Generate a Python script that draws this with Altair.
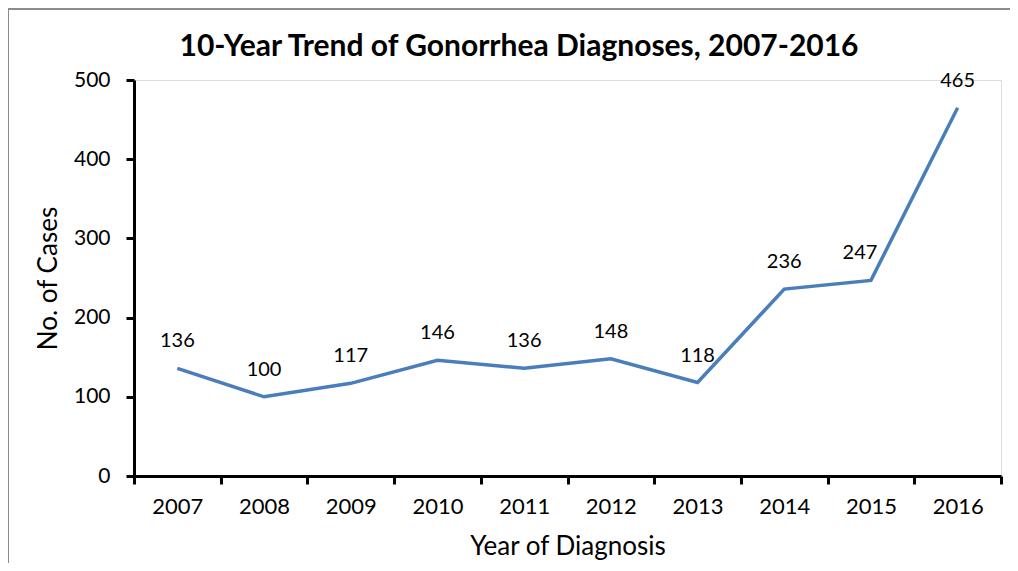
import altair as alt
import pandas as pd

years = ["2007", "2008", "2009", "2010", "2011", "2012", "2013", "2014", "2015", "2016"]
cases = [136, 100, 117, 146, 136, 148, 118, 236, 247, 465]
title_text = ["10-Year Trend of Gonorrhea Diagnoses, 2007-2016"]

df = pd.DataFrame({"year": years, "cases": cases})

FONT = "Lato"

x = alt.X("year:O", sort=years, title="Year of Diagnosis",
          scale=alt.Scale(paddingInner=0, paddingOuter=0),
          axis=alt.Axis(labelAngle=0, tickBand="extent", labelFontSize=22,
                        titleFontSize=26, labelPadding=12, titlePadding=16,
                        titleFontWeight="normal", tickSize=8, tickWidth=3,
                        domainWidth=3, domainColor="black", tickColor="black",
                        labelColor="black", titleColor="black", labelFont=FONT,
                        titleFont=FONT))
y = alt.Y("cases:Q", title="No. of Cases",
          scale=alt.Scale(domain=[0, 500]),
          axis=alt.Axis(values=[0, 100, 200, 300, 400, 500], grid=False,
                        labelFontSize=21, titleFontSize=26, labelPadding=16,
                        titlePadding=12, titleFontWeight="normal", tickSize=8,
                        tickWidth=3, domainWidth=3, domainColor="black",
                        tickColor="black", labelColor="black", titleColor="black",
                        labelFont=FONT, titleFont=FONT))

base = alt.Chart(df)

border = base.mark_rect(fill=None, stroke="#8c8c8c", strokeWidth=2, clip=False).encode(
    x=alt.value(-126), x2=alt.value(1000), y=alt.value(-71), y2=alt.value(700)
)

title = alt.Chart(pd.DataFrame({"t": title_text})).mark_text(
    fontSize=30, font=FONT, fontWeight="bold", color="black", align="center",
    baseline="middle"
).encode(x=alt.value(385), y=alt.value(-33), text="t:N")

line = base.mark_line(color="#4A7EBB", strokeWidth=3.5).encode(x=x, y=y)

lab_enc = dict(x=alt.X("year:O", sort=years), y=alt.Y("cases:Q"), text="cases:Q")

labels = base.transform_filter(alt.datum.year != "2015").mark_text(
    dy=-27, fontSize=20, font=FONT, color="black").encode(**lab_enc)
labels_2015 = base.transform_filter(alt.datum.year == "2015").mark_text(
    dy=-27, dx=-11, fontSize=20, font=FONT, color="black").encode(**lab_enc)

chart = alt.layer(border, title, line, labels, labels_2015).properties(
    width=867, height=396,
    autosize=alt.AutoSizeParams(type="none"),
    padding={"left": 126, "top": 72, "right": 9, "bottom": 87},
).configure_view(stroke=None).configure(background="white")

chart.save("out.html", embed_options={"renderer": "svg", "actions": False})
